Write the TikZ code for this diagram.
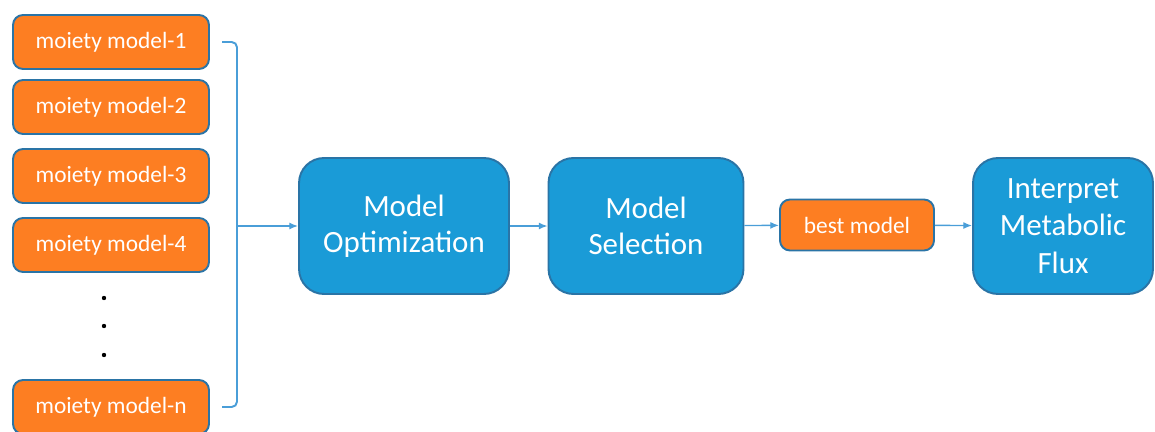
\documentclass[tikz,border=0pt]{standalone}
\usepackage{fontspec}
\setmainfont{Carlito}
\usepackage{xcolor}
\usepackage{tikz}
\usetikzlibrary{arrows.meta,positioning,calc}
\definecolor{moietyOrange}{HTML}{FD7E22}
\definecolor{stepBlue}{HTML}{1A9BD7}
\definecolor{edgeBlue}{HTML}{2A74A6}
\definecolor{arrowBlue}{HTML}{4A9ED8}

\begin{document}
\begin{tikzpicture}[x=0.02cm, y=-0.02cm, >={Latex[length=5pt,width=4pt]}, font=\fontsize{13.3}{16}\selectfont]
    \tikzset{
      moiety/.style={rectangle, rounded corners=0.2cm, draw=edgeBlue, line width=1.1pt, fill=moietyOrange, text=white, minimum width=3.92cm, minimum height=1.08cm, inner sep=0pt},
      stage/.style={rectangle, rounded corners=0.5cm, draw=edgeBlue, line width=1.1pt, fill=stepBlue, text=white, minimum height=2.72cm, align=center, inner sep=0pt, font=\fontsize{17.6}{20.5}\selectfont},
      flow/.style={->, line width=0.8pt, draw=arrowBlue}
    }
    \useasboundingbox (0,0) rectangle (1155,432);
    % moiety models
    \node[moiety] (m1) at (111,42) {moiety model-1};
    \node[moiety] (m2) at (111,107) {moiety model-2};
    \node[moiety] (m3) at (111,176) {moiety model-3};
    \node[moiety] (m4) at (111,245) {moiety model-4};
    \node[moiety] (mn) at (111,407) {moiety model-n};
    \foreach \y in {298,326,355} \fill (104,\y) circle (2.2);
    % pipeline
    \node[stage, minimum width=4.2cm] (opt) at (404,226) {Model\\Optimization};
    \node[stage, minimum width=3.9cm] (sel) at (646,226) {Model\\Selection};
    \node[moiety, minimum width=3.08cm, minimum height=1.02cm] (best) at (857,225) {best model};
    \node[stage, minimum width=3.6cm, font=\fontsize{17.6}{21.5}\selectfont] (flux) at (1063,226) {Interpret\\Metabolic\\Flux};
    % bracket and arrows
    \coordinate (brace) at (237,226);
    \draw[line width=1.1pt, arrowBlue, rounded corners=3pt, shorten <=7pt, shorten >=7pt] (m1.east) -| (brace) |- (mn.east);
    \draw[flow] (brace) -- (opt);
    \draw[flow] (opt) -- (sel);
    \draw[flow] (sel) -- (best);
    \draw[flow] (best) -- (flux);
\end{tikzpicture}
\end{document}
